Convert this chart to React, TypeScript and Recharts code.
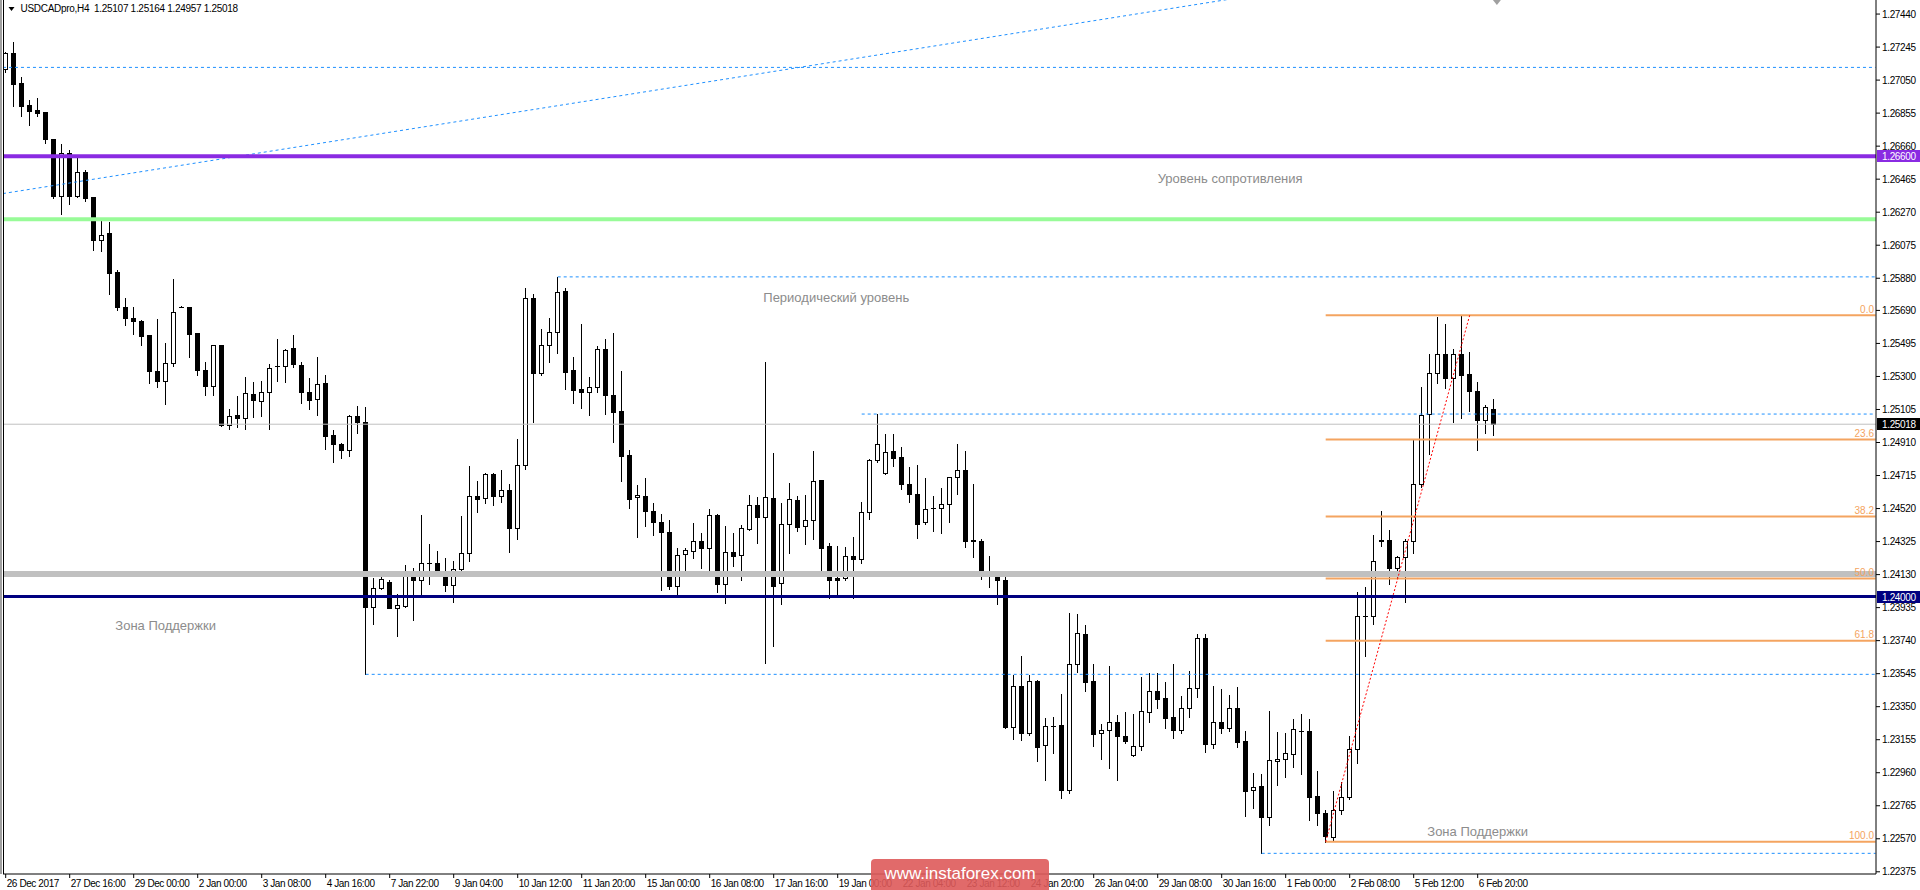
import React from 'react';
import { ComposedChart, Bar, XAxis, YAxis, ReferenceLine, ReferenceDot } from 'recharts';

const FONT = '"Liberation Sans", Arial, sans-serif';

// USDCAD H4 candles (index 1 = 26 Dec 2017)
const opens = [
  1.27116, 1.27208, 1.27031, 1.26903, 1.26873, 1.26861, 1.26702, 1.26367, 1.26617, 1.26367,
  1.26505, 1.26357, 1.26107, 1.26146, 1.25916, 1.25709, 1.25644, 1.25626, 1.25544, 1.25331,
  1.25274, 1.25382, 1.25713, 1.25709, 1.25555, 1.25341, 1.25244, 1.25484, 1.25014, 1.25071,
  1.25055, 1.25199, 1.25158, 1.25211, 1.25359, 1.25359, 1.25471, 1.2537, 1.25211, 1.25164,
  1.25264, 1.24953, 1.24904, 1.24868, 1.25069, 1.25034, 1.2394, 1.24051, 1.24088, 1.23934,
  1.23946, 1.24123, 1.241, 1.242, 1.242, 1.24141, 1.2407, 1.24165, 1.24257, 1.24596,
  1.24584, 1.24726, 1.24596, 1.24628, 1.24405, 1.24779, 1.25766, 1.25321, 1.25483, 1.25565,
  1.25802, 1.25337, 1.25225, 1.25211, 1.2524, 1.25465, 1.25193, 1.25095, 1.24838, 1.2459,
  1.24596, 1.24508, 1.24443, 1.24383, 1.24064, 1.24253, 1.24271, 1.24326, 1.24289, 1.24484,
  1.24076, 1.24265, 1.24246, 1.24399, 1.24539, 1.24472, 1.2458, 1.24078, 1.24426, 1.24568,
  1.24415, 1.2445, 1.24686, 1.24296, 1.24107, 1.24107, 1.24239, 1.24225, 1.24497, 1.24805,
  1.24728, 1.24858, 1.24822, 1.24663, 1.24604, 1.24438, 1.24521, 1.24521, 1.24545, 1.24704,
  1.24746, 1.24332, 1.24328, 1.24151, 1.24131, 1.24099, 1.23231, 1.23475, 1.23196, 1.23501,
  1.23121, 1.23235, 1.23241, 1.22857, 1.23605, 1.23779, 1.23501, 1.23192, 1.2321, 1.23259,
  1.23176, 1.23062, 1.23115, 1.23316, 1.2344, 1.23401, 1.23288, 1.23213, 1.23345, 1.23458,
  1.23753, 1.23127, 1.23257, 1.23227, 1.23345, 1.23145, 1.22859, 1.22882, 1.22701, 1.2303,
  1.23043, 1.23072, 1.23207, 1.23207, 1.22823, 1.22724, 1.2258, 1.22739, 1.22817, 1.23102,
  1.23885, 1.23883, 1.24336, 1.24336, 1.24169, 1.24233, 1.24328, 1.24667, 1.25081, 1.25323,
  1.25435, 1.25288, 1.25435, 1.25317, 1.25216, 1.25043, 1.25107,
];
const highs = [
  1.27214, 1.27273, 1.27066, 1.26932, 1.26942, 1.26861, 1.26702, 1.2667, 1.26637, 1.26597,
  1.26519, 1.26357, 1.26223, 1.26211, 1.25928, 1.25766, 1.25709, 1.25632, 1.25544, 1.25638,
  1.25496, 1.25874, 1.25715, 1.25711, 1.25559, 1.25384, 1.25488, 1.25488, 1.2511, 1.25183,
  1.25295, 1.25266, 1.25272, 1.25376, 1.25524, 1.25465, 1.25544, 1.25384, 1.2529, 1.25412,
  1.25311, 1.24986, 1.24908, 1.25072, 1.25124, 1.25118, 1.24112, 1.24141, 1.241, 1.24013,
  1.24185, 1.24171, 1.24484, 1.24309, 1.24267, 1.24226, 1.24208, 1.24474, 1.2477, 1.24681,
  1.2473, 1.2473, 1.24746, 1.24667, 1.24933, 1.2582, 1.25786, 1.25583, 1.25648, 1.25888,
  1.25825, 1.25412, 1.25607, 1.25294, 1.25479, 1.25524, 1.25554, 1.25331, 1.24868, 1.24661,
  1.24703, 1.24555, 1.2449, 1.24454, 1.24289, 1.24289, 1.24433, 1.24378, 1.24515, 1.2449,
  1.24415, 1.24374, 1.24425, 1.246, 1.24586, 1.25385, 1.24846, 1.2455, 1.24669, 1.24594,
  1.246, 1.24858, 1.24688, 1.24314, 1.24298, 1.2429, 1.2435, 1.24556, 1.24811, 1.25078,
  1.2496, 1.2496, 1.24881, 1.24765, 1.24777, 1.247, 1.24594, 1.24641, 1.24708, 1.24901,
  1.2486, 1.24667, 1.24342, 1.24239, 1.24137, 1.24125, 1.2354, 1.23649, 1.2354, 1.23507,
  1.23284, 1.2329, 1.23424, 1.23905, 1.23897, 1.23832, 1.23602, 1.23247, 1.2359, 1.233,
  1.23318, 1.23306, 1.23527, 1.23546, 1.23546, 1.23495, 1.23602, 1.23412, 1.2356, 1.23779,
  1.23779, 1.23472, 1.23454, 1.23418, 1.23466, 1.23206, 1.2296, 1.22954, 1.23325, 1.23199,
  1.23192, 1.23275, 1.23308, 1.23275, 1.22971, 1.22739, 1.22851, 1.22903, 1.23178, 1.24026,
  1.24057, 1.24363, 1.24503, 1.24393, 1.24241, 1.24342, 1.24927, 1.25239, 1.25435, 1.2565,
  1.25608, 1.25461, 1.25661, 1.25444, 1.25266, 1.25134, 1.25164,
];
const lows = [
  1.271, 1.26897, 1.26838, 1.26785, 1.26838, 1.2668, 1.26355, 1.26261, 1.2632, 1.26361,
  1.26337, 1.26046, 1.26042, 1.25788, 1.25691, 1.25605, 1.25549, 1.25486, 1.25262, 1.25238,
  1.25138, 1.25362, 1.25711, 1.25415, 1.25309, 1.25189, 1.25189, 1.2501, 1.2499, 1.25002,
  1.2499, 1.25061, 1.25067, 1.2499, 1.25274, 1.25268, 1.25357, 1.25144, 1.25108, 1.25073,
  1.24872, 1.24795, 1.24819, 1.24833, 1.24967, 1.23541, 1.23838, 1.24043, 1.2393, 1.23767,
  1.23938, 1.23861, 1.24007, 1.24074, 1.2412, 1.24033, 1.23968, 1.24155, 1.2421, 1.245,
  1.24553, 1.24539, 1.24559, 1.24263, 1.2434, 1.24756, 1.25032, 1.2531, 1.25386, 1.25439,
  1.25227, 1.25144, 1.25114, 1.25073, 1.25209, 1.25079, 1.24913, 1.24683, 1.24523, 1.24352,
  1.24417, 1.24364, 1.24037, 1.24047, 1.24017, 1.24149, 1.24228, 1.24169, 1.24155, 1.24025,
  1.23962, 1.24179, 1.24096, 1.24393, 1.24318, 1.23609, 1.23709, 1.23959, 1.24255, 1.24389,
  1.24308, 1.24338, 1.24131, 1.23989, 1.24009, 1.241, 1.23989, 1.242, 1.24456, 1.24797,
  1.24722, 1.24773, 1.24637, 1.2456, 1.24344, 1.2443, 1.24389, 1.24373, 1.24442, 1.24608,
  1.24294, 1.24235, 1.24105, 1.24054, 1.23959, 1.23225, 1.23158, 1.23152, 1.23184, 1.23028,
  1.22916, 1.23076, 1.2281, 1.22841, 1.23554, 1.23442, 1.23119, 1.2304, 1.22987, 1.22916,
  1.23135, 1.2306, 1.23093, 1.23261, 1.23343, 1.23225, 1.23164, 1.23196, 1.2329, 1.23408,
  1.23081, 1.23107, 1.23196, 1.23206, 1.23113, 1.22705, 1.22749, 1.22484, 1.2265, 1.22886,
  1.22933, 1.22992, 1.2295, 1.2268, 1.22654, 1.22552, 1.22565, 1.22718, 1.22806, 1.23017,
  1.23652, 1.2384, 1.243, 1.24074, 1.2411, 1.23971, 1.24258, 1.24648, 1.24844, 1.25264,
  1.25233, 1.25032, 1.25053, 1.25096, 1.24866, 1.24969, 1.24957,
];
const closes = [
  1.27208, 1.27025, 1.26899, 1.26869, 1.26857, 1.267, 1.26367, 1.26617, 1.26367, 1.26505,
  1.26355, 1.26107, 1.26138, 1.25912, 1.25711, 1.25646, 1.25628, 1.2554, 1.25333, 1.25274,
  1.25382, 1.25683, 1.25713, 1.25551, 1.25337, 1.25244, 1.25484, 1.25014, 1.25069, 1.25055,
  1.25201, 1.25162, 1.25211, 1.25347, 1.2536, 1.25459, 1.25374, 1.25209, 1.25162, 1.25258,
  1.24951, 1.24904, 1.24868, 1.25069, 1.25032, 1.23938, 1.24053, 1.24106, 1.23934, 1.23948,
  1.24123, 1.241, 1.242, 1.242, 1.24139, 1.2407, 1.24165, 1.24257, 1.24596, 1.24577,
  1.24726, 1.24594, 1.24628, 1.24405, 1.24779, 1.25766, 1.25321, 1.25483, 1.25565, 1.25796,
  1.25327, 1.25221, 1.25211, 1.2524, 1.25465, 1.25191, 1.25091, 1.24831, 1.24576, 1.24602,
  1.24506, 1.24441, 1.24381, 1.24062, 1.24247, 1.24277, 1.2433, 1.24287, 1.24484, 1.24076,
  1.24265, 1.2424, 1.24407, 1.24539, 1.24472, 1.24586, 1.24064, 1.24426, 1.24574, 1.24413,
  1.2445, 1.24681, 1.24288, 1.24099, 1.24099, 1.24237, 1.24225, 1.24497, 1.24805, 1.24899,
  1.24852, 1.24816, 1.24663, 1.24604, 1.2443, 1.24515, 1.24521, 1.24545, 1.24704, 1.24746,
  1.2433, 1.24326, 1.24141, 1.24129, 1.24099, 1.23231, 1.23475, 1.23196, 1.23501, 1.23113,
  1.23235, 1.23235, 1.22857, 1.23605, 1.23783, 1.23497, 1.2319, 1.2321, 1.23257, 1.23178,
  1.23148, 1.23115, 1.23322, 1.2344, 1.23397, 1.23284, 1.23213, 1.23345, 1.23458, 1.23753,
  1.23127, 1.23257, 1.23225, 1.23345, 1.23143, 1.22853, 1.22876, 1.22701, 1.23034, 1.23043,
  1.23076, 1.2322, 1.23207, 1.22819, 1.22722, 1.22585, 1.22739, 1.22817, 1.23102, 1.23887,
  1.23887, 1.24211, 1.24328, 1.24169, 1.24233, 1.2433, 1.24667, 1.25074, 1.25323, 1.25435,
  1.25288, 1.25435, 1.25309, 1.25214, 1.25043, 1.25117, 1.25018,
];

// x axis labels and the candle each one sits on
const timeTicks = [1, 9, 17, 25, 33, 41, 49, 57, 65, 73, 81, 89, 97, 105, 113, 121, 129, 137, 145, 153, 161, 169, 177, 185];
const timeLabels = [
  '26 Dec 2017', '27 Dec 16:00', '29 Dec 00:00', '2 Jan 00:00', '3 Jan 08:00', '4 Jan 16:00',
  '7 Jan 22:00', '9 Jan 04:00', '10 Jan 12:00', '11 Jan 20:00', '15 Jan 00:00', '16 Jan 08:00',
  '17 Jan 16:00', '19 Jan 00:00', '22 Jan 04:00', '23 Jan 12:00', '24 Jan 20:00', '26 Jan 04:00',
  '29 Jan 08:00', '30 Jan 16:00', '1 Feb 00:00', '2 Feb 08:00', '5 Feb 12:00', '6 Feb 20:00',
];
const priceTicks = [
  1.2744, 1.27245, 1.2705, 1.26855, 1.2666, 1.26465, 1.2627, 1.26075, 1.2588, 1.2569,
  1.25495, 1.253, 1.25105, 1.2491, 1.24715, 1.2452, 1.24325, 1.2413, 1.23935, 1.2374,
  1.23545, 1.2335, 1.23155, 1.2296, 1.22765, 1.2257, 1.22375,
];

// drawn objects
const resistance = 1.266;
const support = 1.24;
const lastPrice = 1.25018;
const greenLevel = 1.26229;
const grayZone = 1.24134;
const dashedFrom = [0.66, 70, 108, 46, 158];
const dashedPrice = [1.27125, 1.25888, 1.25078, 1.23541, 1.22484];
const fibLevels = [0, 23.6, 38.2, 50, 61.8, 100];
const fibHigh = 1.25661;
const fibLow = 1.22552;
const fibFrom = 166;
const fibTo = 184;
const trendStart = { x: 0.66, y: 1.2638 };
const trendEnd = { x: 154.3, y: 1.2753 };
const noteTexts = ['Уровень сопротивления', 'Периодический уровень', 'Зона Поддержки', 'Зона Поддержки'];
const noteAt = [145.0, 95.7, 14.7, 178.7];
const notePrice = [1.26444, 1.25739, 1.238, 1.22589];

const X_MIN = 0.6625;
const X_MAX = 234.79;
const Y_MIN = 1.22362;
const Y_MAX = 1.27523;

const candles = opens.map((o, k) => ({ i: k + 1, o, h: highs[k], l: lows[k], c: closes[k] }));

const Candle = (props: any) => {
  const { x, y, width, height, payload } = props;
  if (!payload || x == null || y == null) return null;
  const top = Math.min(y, y + height);
  const span = Math.abs(height);
  const { o, h, l, c } = payload;
  const toY = (v: number) => (h > l ? top + ((h - v) / (h - l)) * span : top);
  const cx = Math.floor(x + width / 2) + 0.5;
  const bTop = Math.round(toY(Math.max(o, c))) + 0.5;
  const bBot = Math.round(toY(Math.min(o, c))) + 0.5;
  const bull = c > o;
  return (
    <g>
      <line x1={cx} x2={cx} y1={Math.round(top)} y2={Math.round(top + span) + 1} stroke="#000" strokeWidth={1} />
      {bBot - bTop >= 1 ? (
        <rect x={cx - 2} y={bTop} width={4} height={bBot - bTop} fill={bull ? '#fff' : '#000'} stroke="#000" strokeWidth={1} />
      ) : (
        <line x1={cx - 2.5} x2={cx + 2.5} y1={bTop} y2={bTop} stroke="#000" strokeWidth={1} />
      )}
    </g>
  );
};

const XTick = (props: any) => {
  const { x, y, payload } = props;
  const k = timeTicks.indexOf(payload.value);
  return (
    <text x={x + 1} y={y + 9} fontSize={10} fontFamily={FONT} letterSpacing={-0.4} fill="#000">
      {timeLabels[k]}
    </text>
  );
};

const YTick = (props: any) => {
  const { x, y, payload } = props;
  return (
    <text x={x} y={y + 3.6} fontSize={10} fontFamily={FONT} letterSpacing={-0.35} fill="#000">
      {Number(payload.value).toFixed(5)}
    </text>
  );
};

const priceTag = (text: string, bg: string) => (p: any) => (
  <g>
    <rect x={p.cx + 1} y={Math.round(p.cy) - 6} width={43} height={12} fill={bg} />
    <text x={p.cx + 6} y={Math.round(p.cy) + 4} fontSize={10} fontFamily={FONT} letterSpacing={-0.35} fill="#fff">
      {text}
    </text>
  </g>
);

const fibLabel = (text: string) => (p: any) => (
  <text x={p.cx - 2} y={p.cy - 2.5} fontSize={10} fontFamily={FONT} textAnchor="end" fill="#F4A460">
    {text}
  </text>
);

const note = (text: string) => (p: any) => (
  <text x={p.cx} y={p.cy} fontSize={13} fontFamily={FONT} fill="#8c8c8c">
    {text}
  </text>
);

const shiftMark = (p: any) => (
  <polygon points={`${p.cx - 4},0 ${p.cx + 4},0 ${p.cx},5`} fill="#a0a0a0" />
);

const App = () => {
  return (
    <div style={{ position: 'absolute', left: 0, top: 0, width: 1920, height: 890, background: '#fff', overflow: 'hidden' }}>
      <ComposedChart width={1920} height={890} data={candles} margin={{ top: 0, right: 0, bottom: 0, left: 3 }}>
        <XAxis
          dataKey="i"
          type="number"
          domain={[X_MIN, X_MAX]}
          allowDataOverflow
          ticks={timeTicks}
          interval={0}
          height={16}
          tickSize={4}
          tickMargin={0}
          tick={<XTick />}
          axisLine={{ stroke: '#000' }}
          tickLine={{ stroke: '#000' }}
        />
        <YAxis
          orientation="right"
          type="number"
          width={44}
          domain={[Y_MIN, Y_MAX]}
          allowDataOverflow
          ticks={priceTicks}
          interval={0}
          tickSize={4}
          tickMargin={2}
          tick={<YTick />}
          axisLine={{ stroke: '#000' }}
          tickLine={{ stroke: '#000' }}
        />
        <Bar dataKey={(d: any) => [d.l, d.h]} barSize={5} shape={Candle} isAnimationActive={false} />

        <ReferenceLine y={grayZone} stroke="#C0C0C0" strokeWidth={6} />
        <ReferenceLine y={lastPrice} stroke="#C0C0C0" strokeWidth={1} />
        <ReferenceLine
          segment={[trendStart, trendEnd]}
          stroke="#1E90FF"
          strokeDasharray="3 3"
          ifOverflow="hidden"
        />
        {dashedPrice.map((p, k) => (
          <ReferenceLine
            key={'d' + k}
            segment={[{ x: dashedFrom[k], y: p }, { x: X_MAX - 0.05, y: p }]}
            stroke="#1E90FF"
            strokeDasharray="3 3"
            ifOverflow="visible"
          />
        ))}
        {fibLevels.map((lv) => {
          const p = fibHigh - ((fibHigh - fibLow) * lv) / 100;
          return (
            <ReferenceLine
              key={'f' + lv}
              segment={[{ x: fibFrom, y: p }, { x: X_MAX - 0.05, y: p }]}
              stroke="#F4A460"
              strokeWidth={2}
              ifOverflow="visible"
            />
          );
        })}
        <ReferenceLine
          segment={[{ x: fibFrom, y: fibLow }, { x: fibTo, y: fibHigh }]}
          stroke="#FF0000"
          strokeDasharray="2 2"
          ifOverflow="visible"
        />
        <ReferenceLine y={greenLevel} stroke="#98FB98" strokeWidth={4} />
        <ReferenceLine y={resistance} stroke="#8A2BE2" strokeWidth={4} />
        <ReferenceLine y={support} stroke="#000080" strokeWidth={3} />

        {fibLevels.map((lv) => (
          <ReferenceDot
            key={'fl' + lv}
            x={X_MAX}
            y={fibHigh - ((fibHigh - fibLow) * lv) / 100}
            ifOverflow="visible"
            shape={fibLabel(lv.toFixed(1))}
          />
        ))}
        {noteTexts.map((t, k) => (
          <ReferenceDot key={'n' + k} x={noteAt[k]} y={notePrice[k]} ifOverflow="visible" shape={note(t)} />
        ))}
        <ReferenceDot x={X_MAX} y={resistance} ifOverflow="visible" shape={priceTag(resistance.toFixed(5), '#8A2BE2')} />
        <ReferenceDot x={X_MAX} y={lastPrice} ifOverflow="visible" shape={priceTag(lastPrice.toFixed(5), '#000')} />
        <ReferenceDot x={X_MAX} y={support} ifOverflow="visible" shape={priceTag(support.toFixed(5), '#000080')} />
        <ReferenceDot x={187.4} y={Y_MAX} ifOverflow="visible" shape={shiftMark} />
      </ComposedChart>

      <div style={{ position: 'absolute', left: 0, top: 0, width: 2, height: 874, background: '#a0a0a0' }} />
      <div style={{ position: 'absolute', left: 3, top: 0, width: 1, height: 874, background: '#000' }} />

      <svg style={{ position: 'absolute', left: 0, top: 0 }} width={300} height={16}>
        <polygon points="8.5,7 14.5,7 11.5,11" fill="#000" />
        <text x={20.5} y={12} fontSize={10} fontFamily={FONT} letterSpacing={-0.3} fill="#000" style={{ whiteSpace: 'pre' }}>
          USDCADpro,H4  1.25107 1.25164 1.24957 1.25018
        </text>
      </svg>

      <div
        style={{
          position: 'absolute',
          left: 871,
          top: 859,
          width: 178,
          height: 34,
          background: 'rgba(222, 90, 90, 0.9)',
          borderRadius: 4,
          color: '#fff',
          fontFamily: FONT,
          fontSize: 17,
          lineHeight: '30px',
          textAlign: 'center',
        }}
      >
        www.instaforex.com
      </div>
    </div>
  );
};

export default App;
